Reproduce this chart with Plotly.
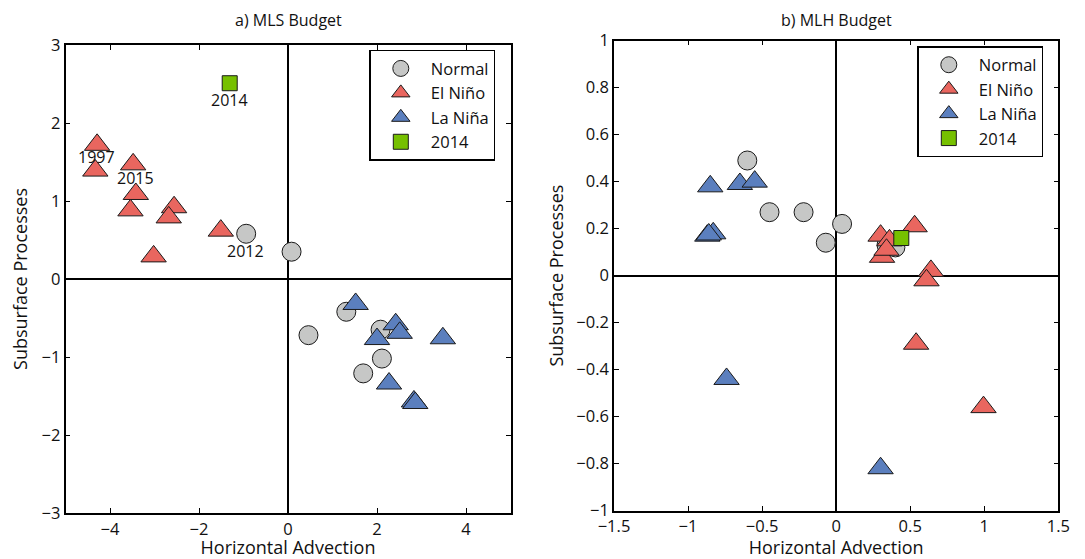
import plotly.graph_objects as go

# ---------------- data: a) MLS budget ----------------
mls_normal_x = [-0.94, 0.08, 1.31, 0.46, 2.08, 2.11, 1.69]
mls_normal_y = [0.58, 0.35, -0.42, -0.72, -0.65, -1.02, -1.21]
mls_nino_x = [-4.29, -4.33, -3.48, -3.42, -3.54, -2.56, -2.68, -1.51, -3.02]
mls_nino_y = [1.72, 1.39, 1.47, 1.09, 0.88, 0.92, 0.79, 0.62, 0.29]
mls_nina_x = [1.52, 2.42, 2.51, 2.00, 3.48, 2.27, 2.83, 2.86]
mls_nina_y = [-0.32, -0.58, -0.69, -0.77, -0.76, -1.34, -1.57, -1.59]
mls_2014_x = [-1.31]
mls_2014_y = [2.51]
mls_label_text = ["1997", "2015", "2014", "2012"]
mls_label_x = [-4.30, -3.42, -1.32, -0.96]
mls_label_y = [1.56, 1.29, 2.29, 0.36]

# ---------------- data: b) MLH budget ----------------
mlh_normal_x = [-0.60, -0.45, -0.22, 0.04, -0.07, 0.34, 0.40]
mlh_normal_y = [0.49, 0.27, 0.27, 0.22, 0.14, 0.13, 0.12]
mlh_nino_x = [0.30, 0.53, 0.36, 0.31, 0.64, 0.61, 0.54, 0.995, 0.34]
mlh_nino_y = [0.17, 0.21, 0.15, 0.08, 0.02, -0.02, -0.29, -0.56, 0.11]
mlh_nina_x = [-0.85, -0.65, -0.55, -0.87, -0.83, -0.86, -0.74, 0.30]
mlh_nina_y = [0.38, 0.39, 0.40, 0.17, 0.18, 0.175, -0.44, -0.82]
mlh_2014_x = [0.44]
mlh_2014_y = [0.16]

titles = ["a) MLS Budget", "b) MLH Budget"]
xlabel = "Horizontal Advection"
ylabel = "Subsurface Processes"

# ---------------- styles ----------------
FONT = "Open Sans"
C_NORMAL = "#C6C7C6"
C_NINO = "#E9665F"
C_NINA = "#5B7FBE"
C_2014 = "#76C000"
EDGE = "#1a1a1a"
W, H = 1077, 551   # page has an 8px body margin

groups = [
    ("Normal", "circle", 19, C_NORMAL),
    ("El Niño", "triangle-up", 22, C_NINO),
    ("La Niña", "triangle-up", 22, C_NINA),
    ("2014", "square", 15, C_2014),
]

fig = go.Figure()

panel_data = [
    [(mls_normal_x, mls_normal_y), (mls_nino_x, mls_nino_y), (mls_nina_x, mls_nina_y), (mls_2014_x, mls_2014_y)],
    [(mlh_normal_x, mlh_normal_y), (mlh_nino_x, mlh_nino_y), (mlh_nina_x, mlh_nina_y), (mlh_2014_x, mlh_2014_y)],
]

for p, data in enumerate(panel_data):
    for (name, sym, size, col), (xs, ys) in zip(groups, data):
        fig.add_trace(go.Scatter(
            x=xs, y=ys, mode="markers", name=name,
            marker=dict(symbol=sym, size=size, color=col, line=dict(color=EDGE, width=1)),
            xaxis="x" if p == 0 else "x2",
            yaxis="y" if p == 0 else "y2",
            legend="legend" if p == 0 else "legend2",
            showlegend=True,
        ))

axis_common = dict(
    showgrid=False, showline=True, linecolor="black", linewidth=1.5,
    mirror="ticks", ticks="inside", ticklen=5, tickwidth=1, tickcolor="black",
    zeroline=True, zerolinecolor="black", zerolinewidth=2,
    tickfont=dict(family=FONT, size=16.5, color="#111"),
    automargin=False,
)
title_font = dict(family=FONT, size=18, color="#111")
legend_common = dict(xanchor="left", yanchor="top",
                     bordercolor="black", borderwidth=1.5, bgcolor="white",
                     font=dict(family=FONT, size=16.5, color="#111"), itemwidth=50,
                     entrywidth=80, entrywidthmode="pixels",
                     itemclick=False, itemdoubleclick=False)

fig.update_layout(
    width=W, height=H,
    margin=dict(l=0, r=0, t=0, b=0),
    paper_bgcolor="white", plot_bgcolor="white",
    font=dict(family=FONT, color="#111"),
    xaxis=dict(axis_common, range=[-5, 5], tickvals=[-4, -2, 0, 2, 4],
               domain=[57.5 / W, 502.5 / W], anchor="y",
               title=dict(text=xlabel, font=title_font, standoff=8)),
    yaxis=dict(axis_common, range=[-3, 3], dtick=1,
               domain=[1 - 505 / H, 1 - 37 / H], anchor="x",
               title=dict(text=ylabel, font=title_font, standoff=16)),
    xaxis2=dict(axis_common, range=[-1.5, 1.5], dtick=0.5,
                domain=[606 / W, 1050.3 / W], anchor="y2",
                title=dict(text=xlabel, font=title_font, standoff=8)),
    yaxis2=dict(axis_common, range=[-1, 1], dtick=0.2,
                domain=[1 - 502.5 / H, 1 - 32.7 / H], anchor="x2",
                title=dict(text=ylabel, font=title_font, standoff=8)),
    legend=dict(legend_common, x=361.3 / W, y=1 - 41.7 / H),
    legend2=dict(legend_common, x=909.3 / W, y=1 - 38 / H),
    showlegend=True,
)

# year labels on panel a
for t, lx, ly in zip(mls_label_text, mls_label_x, mls_label_y):
    fig.add_annotation(x=lx, y=ly, xref="x", yref="y", text=t, showarrow=False,
                       font=dict(family=FONT, size=16, color="#111"))

# panel titles
for t, cx in zip(titles, [(57.5 + 502.5) / 2 / W, (606 + 1050.3) / 2 / W]):
    fig.add_annotation(x=cx, y=1, xref="paper", yref="paper", text=t,
                       showarrow=False, font=dict(family=FONT, size=16, color="#111"),
                       xanchor="center", yanchor="top", borderpad=0)

fig.write_html("out.html")
